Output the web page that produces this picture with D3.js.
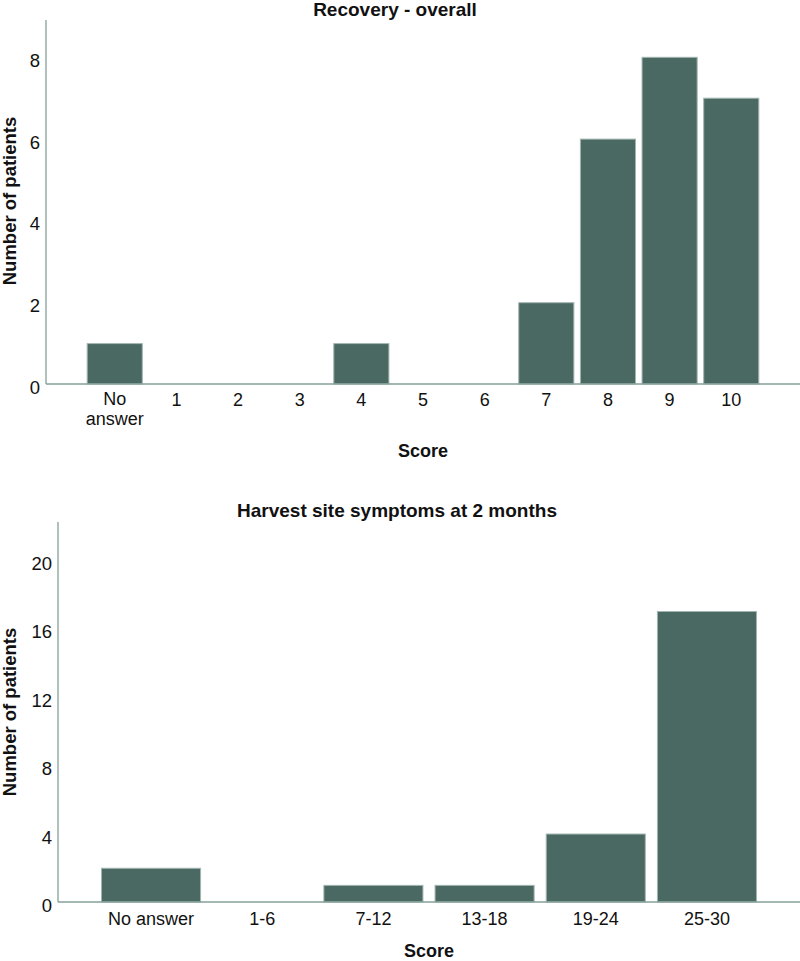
<!DOCTYPE html>
<html>
<head>
<meta charset="utf-8">
<script src="https://cdn.jsdelivr.net/npm/d3@7"></script>
<style>
  html, body { margin: 0; padding: 0; background: #fff; }
  svg { display: block; font-family: "Liberation Sans", Arial, Helvetica, sans-serif; }
</style>
</head>
<body>
<svg id="chart" width="800" height="961"></svg>
<script>
// ---- Data ----
const recoveryCategories = ["No answer", "1", "2", "3", "4", "5", "6", "7", "8", "9", "10"];
const recoveryValues = [1, 0, 0, 0, 1, 0, 0, 2, 6, 8, 7];
const recoveryTicks = [0, 2, 4, 6, 8];

const harvestCategories = ["No answer", "1-6", "7-12", "13-18", "19-24", "25-30"];
const harvestValues = [2, 0, 1, 1, 4, 17];
const harvestTicks = [0, 4, 8, 12, 16, 20];

const titles = ["Recovery - overall", "Harvest site symptoms at 2 months"];
const yTitle = "Number of patients";
const xTitle = "Score";

// ---- Styles ----
const barFill = "#4a6963";
const barStroke = "#a3b5b1";
const axisColor = "#86a09a";
const textColor = "#111";

const svg = d3.select("#chart");

function drawPanel(cfg) {
  const g = svg.append("g");
  const x = d3.scaleBand()
    .domain(cfg.categories)
    .range([cfg.left, cfg.right])
    .paddingInner(cfg.padIn)
    .paddingOuter(cfg.padOut);
  const y = d3.scaleLinear()
    .domain([0, cfg.yMax])
    .range([cfg.bottom, cfg.top]);

  // bars
  g.selectAll("rect.bar")
    .data(cfg.categories.map((c, i) => ({ c, v: cfg.values[i] })).filter(d => d.v > 0))
    .join("rect")
    .attr("class", "bar")
    .attr("x", d => x(d.c) + 0.5)
    .attr("y", d => y(d.v) + 0.5)
    .attr("width", x.bandwidth() - 1)
    .attr("height", d => y(0) - y(d.v) - 0.5)
    .attr("fill", barFill)
    .attr("stroke", barStroke)
    .attr("stroke-width", 1);

  // axis lines
  g.append("line")
    .attr("x1", cfg.left).attr("x2", cfg.left)
    .attr("y1", cfg.top).attr("y2", cfg.bottom)
    .attr("stroke", axisColor).attr("stroke-width", 1.3);
  g.append("line")
    .attr("x1", cfg.left).attr("x2", cfg.right)
    .attr("y1", cfg.bottom).attr("y2", cfg.bottom)
    .attr("stroke", axisColor).attr("stroke-width", 1.3);

  // y tick labels
  g.selectAll("text.ytick")
    .data(cfg.ticks)
    .join("text")
    .attr("class", "ytick")
    .attr("x", cfg.left - 6)
    .attr("y", d => y(d) + 10)
    .attr("text-anchor", "end")
    .attr("font-size", 18.5)
    .attr("fill", textColor)
    .text(d => d);

  // x tick labels (multi-word labels wrap onto separate text lines)
  const lines = [];
  cfg.categories.forEach(c => {
    const parts = cfg.wrap ? c.split(" ") : [c];
    parts.forEach((p, i) => lines.push({ c, p, i }));
  });
  g.selectAll("text.xtick")
    .data(lines)
    .join("text")
    .attr("class", "xtick")
    .attr("x", d => x(d.c) + x.bandwidth() / 2)
    .attr("y", d => cfg.xLabelY + d.i * 18.5 - (cfg.wrap && d.i === 0 && d.c.includes(" ") ? 1 : 0))
    .attr("text-anchor", "middle")
    .attr("font-size", 18)
    .attr("fill", textColor)
    .text(d => d.p);

  // title
  g.append("text")
    .attr("x", cfg.titleX)
    .attr("y", cfg.titleY)
    .attr("text-anchor", "middle")
    .attr("font-size", 19)
    .attr("font-weight", "bold")
    .attr("fill", textColor)
    .text(cfg.title);

  // x axis title
  g.append("text")
    .attr("x", (cfg.left + cfg.right) / 2)
    .attr("y", cfg.xTitleY)
    .attr("text-anchor", "middle")
    .attr("font-size", 18)
    .attr("font-weight", "bold")
    .attr("fill", textColor)
    .text(xTitle);

  // y axis title
  g.append("text")
    .attr("transform", `translate(${cfg.yTitleX},${cfg.yTitleCY}) rotate(-90)`)
    .attr("text-anchor", "middle")
    .attr("font-size", 18.5)
    .attr("font-weight", "bold")
    .attr("fill", textColor)
    .text(yTitle);
}

drawPanel({
  categories: recoveryCategories, values: recoveryValues, ticks: recoveryTicks,
  title: titles[0], yMax: 8.9,
  left: 46, right: 800, top: 20, bottom: 384,
  padIn: 0.09, padOut: 0.66, wrap: true,
  xLabelY: 406, titleX: 395, titleY: 15.5, xTitleY: 457,
  yTitleX: 15.5, yTitleCY: 201
});

drawPanel({
  categories: harvestCategories, values: harvestValues, ticks: harvestTicks,
  title: titles[1], yMax: 22.2,
  left: 58, right: 800, top: 522, bottom: 902,
  padIn: 0.1, padOut: 0.387, wrap: false,
  xLabelY: 925, titleX: 397, titleY: 517, xTitleY: 957,
  yTitleX: 15.5, yTitleCY: 712
});
</script>
</body>
</html>
